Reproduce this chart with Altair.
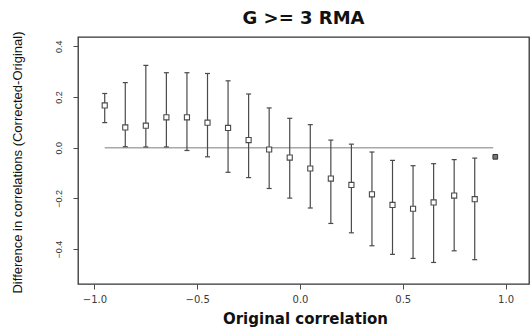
import altair as alt
import pandas as pd

# Data
x_vals = [-0.95, -0.85, -0.75, -0.65, -0.55, -0.45, -0.35, -0.25, -0.15, -0.05,
          0.05, 0.15, 0.25, 0.35, 0.45, 0.55, 0.65, 0.75, 0.85, 0.95]
mean_vals = [0.167, 0.080, 0.087, 0.120, 0.120, 0.099, 0.078, 0.030, -0.007, -0.039,
             -0.082, -0.122, -0.147, -0.184, -0.226, -0.241, -0.216, -0.189, -0.203, -0.036]
hi_vals = [0.214, 0.257, 0.325, 0.296, 0.296, 0.293, 0.264, 0.212, 0.157, 0.116,
           0.091, 0.030, 0.014, -0.017, -0.050, -0.071, -0.063, -0.047, -0.041, None]
lo_vals = [0.099, 0.004, 0.003, 0.003, -0.011, -0.036, -0.097, -0.118, -0.161, -0.199,
           -0.238, -0.299, -0.336, -0.387, -0.421, -0.437, -0.453, -0.407, -0.442, None]
x_ticks = [-1.0, -0.5, 0.0, 0.5, 1.0]
y_ticks = [-0.4, -0.2, 0.0, 0.2, 0.4]
ref_line = {"x": [-0.95], "x2": [0.94], "y": [0.0]}

df = pd.DataFrame({"x": x_vals, "mean": mean_vals, "hi": hi_vals, "lo": lo_vals})
ref_df = pd.DataFrame(ref_line)

X_DOM = [-1.08, 1.114]
Y_DOM = [-0.538, 0.437]
DARK = "#4a4a4a"

xscale = alt.Scale(domain=X_DOM, nice=False, zero=False)
yscale = alt.Scale(domain=Y_DOM, nice=False, zero=False)

x_axis = alt.Axis(
    values=x_ticks, format=".1f", grid=False, domain=False,
    tickSize=5, tickColor=DARK, labelColor="#3a3a3a", labelFont="DejaVu Sans",
    labelFontSize=10, labelPadding=5, title="Original correlation",
    titleFont="DejaVu Sans", titleFontSize=15, titleFontWeight="bold",
    titleColor="#111111", titleBaseline="middle", titleY=34, titleX=227,
    titleAlign="center", labelFlush=False,
)
y_axis = alt.Axis(
    values=y_ticks, format=".1f", grid=False, domain=False,
    tickSize=5, tickColor=DARK, labelColor="#333333", labelFont="Liberation Sans",
    labelFontSize=9, labelAngle=270, labelAlign="center", labelBaseline="bottom",
    labelPadding=10, title="Difference in correlations (Corrected-Original)",
    titleFont="Liberation Sans", titleFontSize=13, titleFontWeight="normal",
    titleColor="#111111", titleAngle=270, titleAlign="center",
    titleBaseline="middle", titleX=-61, titleY=125, labelFlush=False,
)

base = alt.Chart(df)

zero_line = alt.Chart(ref_df).mark_rule(color="#a8a8a8", strokeWidth=1.5).encode(
    x=alt.X("x:Q", scale=xscale, axis=x_axis),
    x2="x2:Q",
    y=alt.Y("y:Q", scale=yscale, axis=y_axis),
)

bars = base.transform_filter("isValid(datum.lo)").mark_rule(
    color=DARK, strokeWidth=1.2
).encode(
    x=alt.X("x:Q", scale=xscale),
    y=alt.Y("lo:Q", scale=yscale),
    y2="hi:Q",
)

cap_hi = base.transform_filter("isValid(datum.hi)").mark_rule(
    color=DARK, strokeWidth=1.2, xOffset=-2.5, x2Offset=2.5
).encode(
    x=alt.X("x:Q", scale=xscale), x2="x:Q", y=alt.Y("hi:Q", scale=yscale)
)
cap_lo = base.transform_filter("isValid(datum.lo)").mark_rule(
    color=DARK, strokeWidth=1.2, xOffset=-2.5, x2Offset=2.5
).encode(
    x=alt.X("x:Q", scale=xscale), x2="x:Q", y=alt.Y("lo:Q", scale=yscale)
)

pts_open = base.transform_filter("isValid(datum.lo)").mark_point(
    shape="square", size=26, filled=True, fill="white", stroke=DARK,
    strokeWidth=1.1, opacity=1
).encode(x=alt.X("x:Q", scale=xscale), y=alt.Y("mean:Q", scale=yscale))

pts_solid = base.transform_filter("!isValid(datum.lo)").mark_point(
    shape="square", size=22, filled=True, fill="#777777", stroke="#333333",
    strokeWidth=1, opacity=1
).encode(x=alt.X("x:Q", scale=xscale), y=alt.Y("mean:Q", scale=yscale))

chart = alt.layer(zero_line, bars, cap_hi, cap_lo, pts_open, pts_solid).properties(
    width=451,
    height=247,
    title=alt.TitleParams(
        "G >= 3 RMA", font="DejaVu Sans", fontSize=18, fontWeight="bold",
        color="#111111", anchor="middle", offset=3,
    ),
    autosize=alt.AutoSizeParams(type="none"),
    padding={"left": 78, "top": 37, "right": 3, "bottom": 43},
    background="white",
).configure_view(
    stroke="#333333", strokeWidth=1.3
)

chart.save("out.html", embed_options={"renderer": "svg", "actions": False})
